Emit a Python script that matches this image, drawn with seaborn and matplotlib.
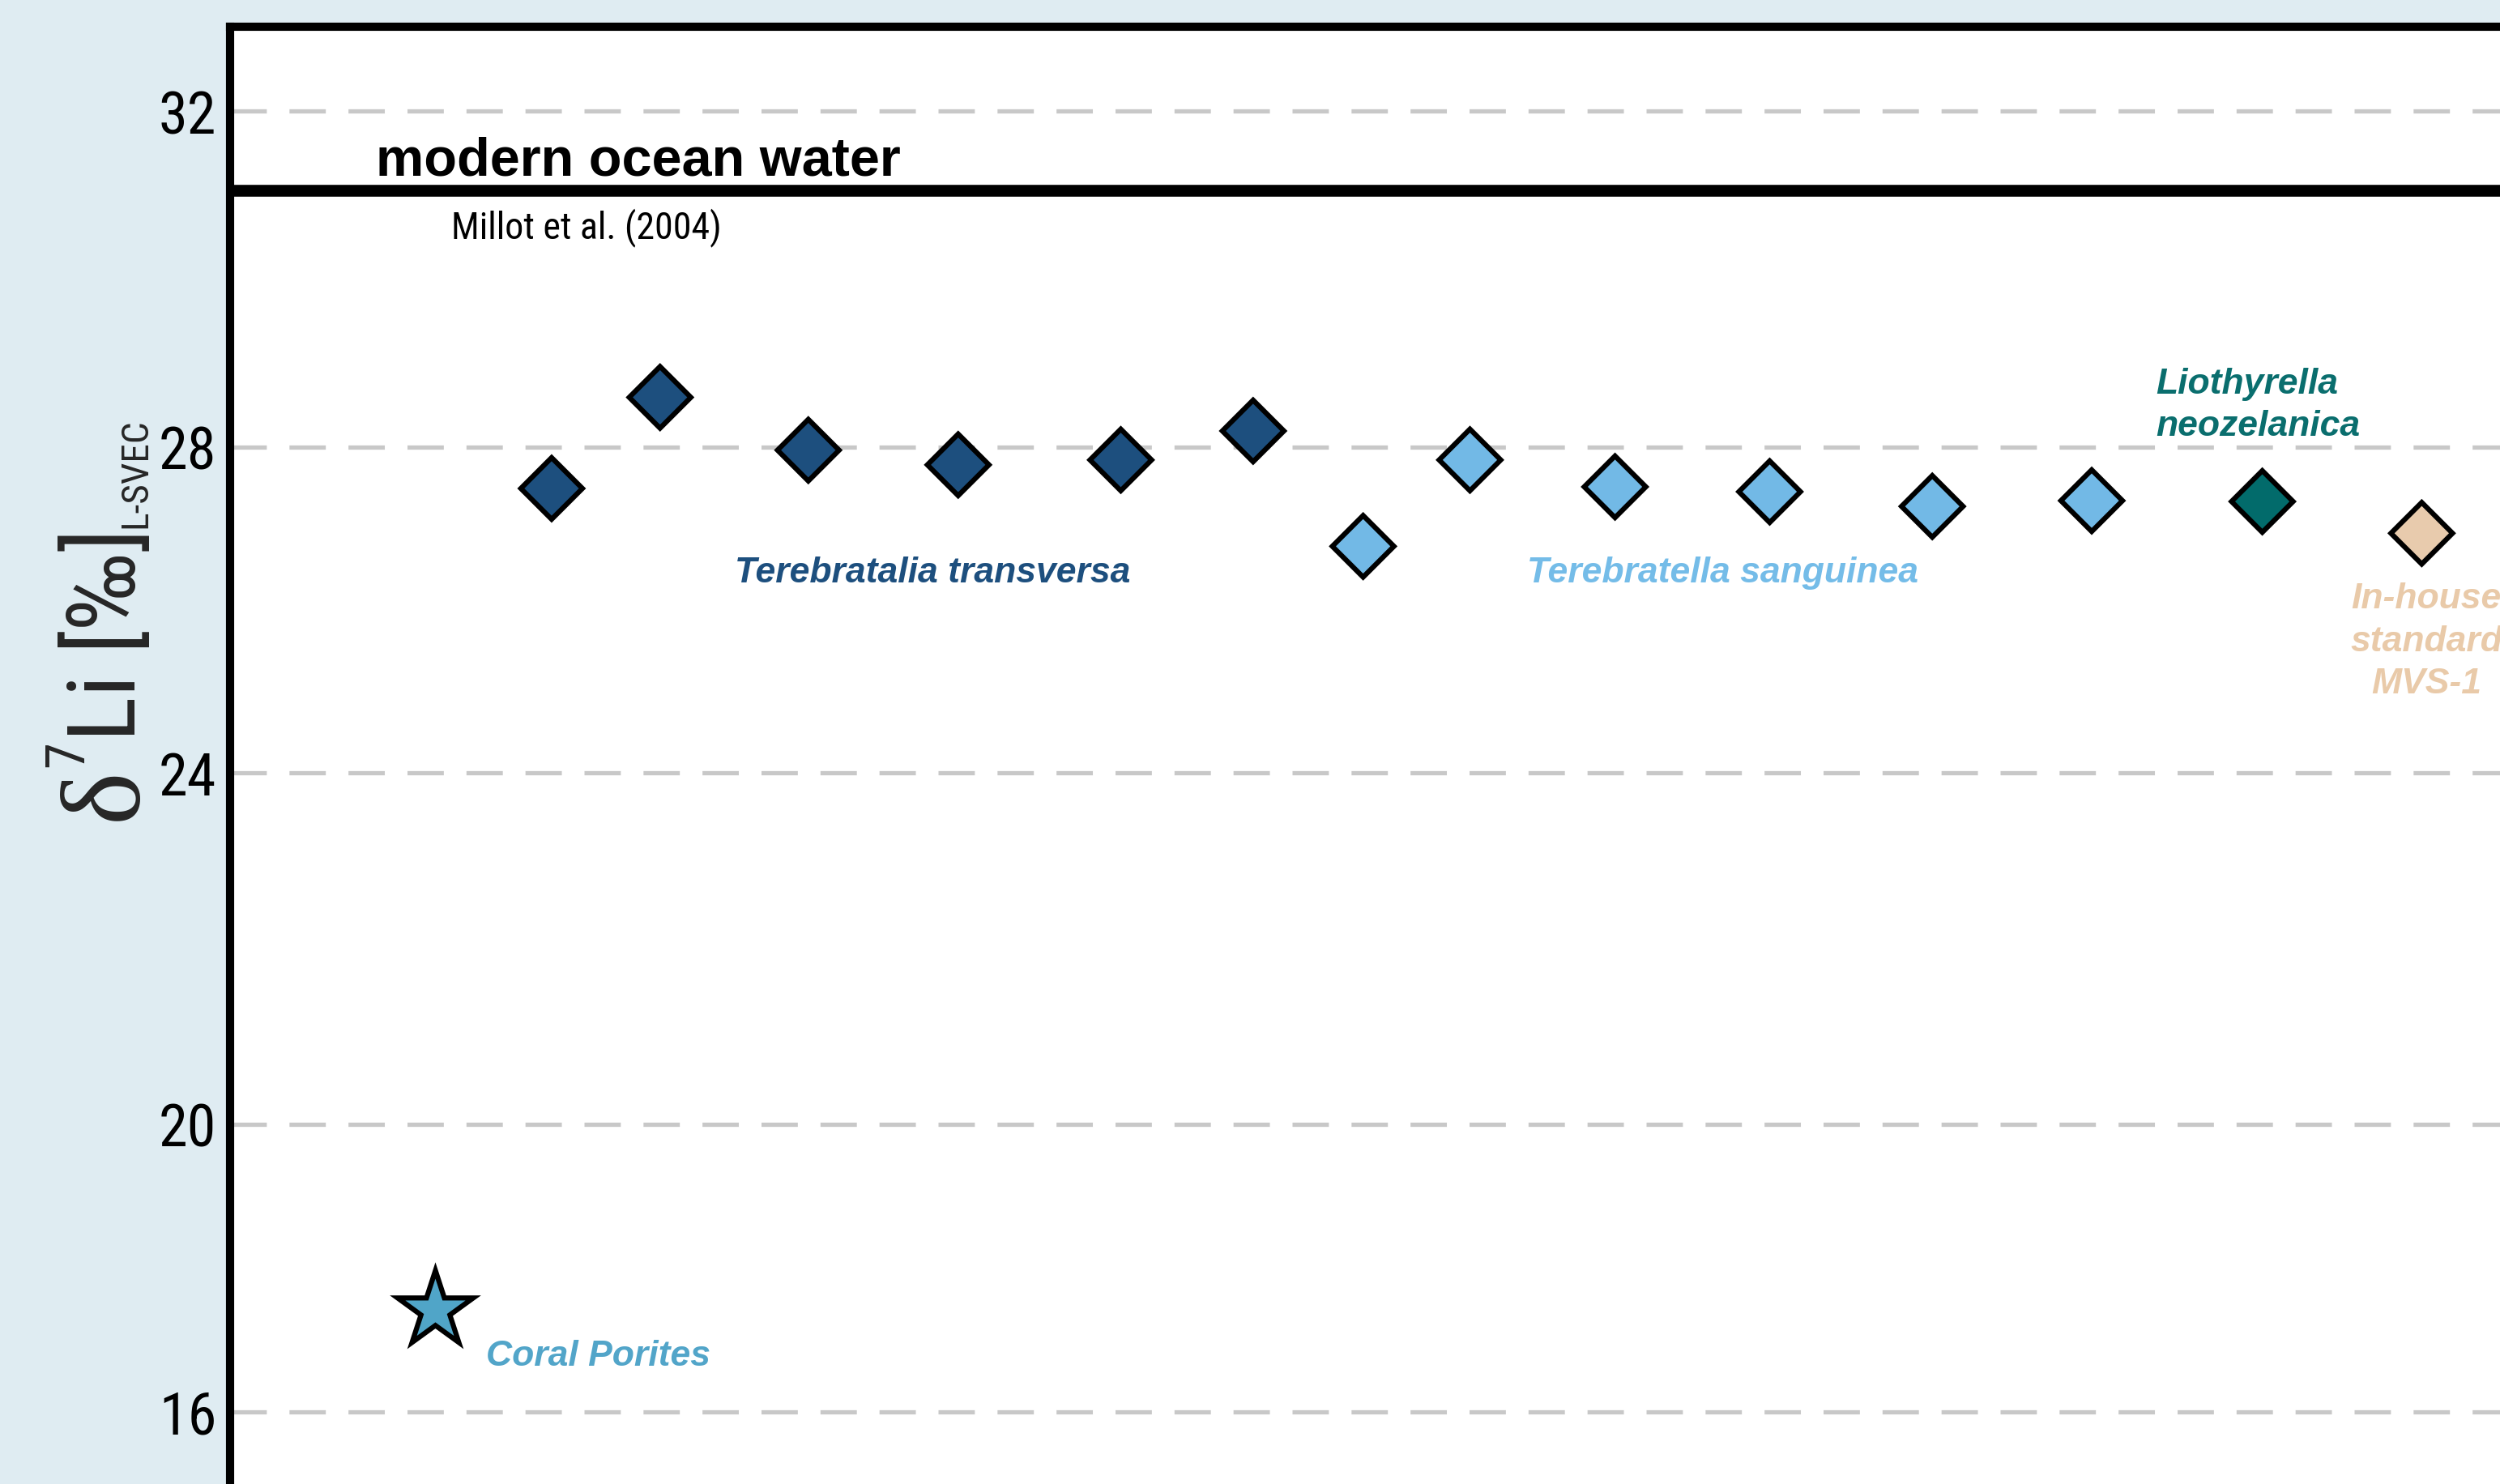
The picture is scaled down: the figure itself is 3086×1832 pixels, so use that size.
import os
import numpy as np
import pandas as pd
import matplotlib
matplotlib.use("Agg")
import matplotlib.pyplot as plt
from matplotlib import font_manager as fm
import seaborn as sns

# ---------------------------------------------------------------- data
sample_group = (["Terebratalia transversa"] * 6
                + ["Terebratella sanguinea"] * 6
                + ["Liothyrella neozelanica", "In-house standard MVS-1"])
sample_pos = [3.46, 4.14, 5.07, 6.01, 7.03, 7.86,
              8.55, 9.22, 10.13, 11.10, 12.12, 13.12,
              14.19, 15.19]
sample_d7li = [27.49, 28.59, 27.96, 27.78, 27.84, 28.19,
               26.78, 27.84, 27.51, 27.45, 27.27, 27.34,
               27.33, 26.94]
coral_pos = [2.73]
coral_d7li = [17.42]
seawater_d7li = 31.05
y_ticks = [16, 20, 24, 28, 32]

group_colors = {
    "Terebratalia transversa": "#1d4f7e",
    "Terebratella sanguinea": "#72b9e6",
    "Liothyrella neozelanica": "#026b6b",
    "In-house standard MVS-1": "#e8cbad",
}
label_colors = {
    "Terebratalia transversa": "#1d4f7e",
    "Terebratella sanguinea": "#74bce8",
    "Liothyrella neozelanica": "#0a6e6e",
    "In-house standard MVS-1": "#e9caa9",
    "Coral": "#52a5c9",
}
coral_color = "#50a5c8"
bg_color = "#dfecf2"

df = pd.DataFrame({"pos": sample_pos, "d7li": sample_d7li, "group": sample_group})
coral = pd.DataFrame({"pos": coral_pos, "d7li": coral_d7li})

# ---------------------------------------------------------------- fonts
sns.set_style("white")
SANS = ["Liberation Sans", "DejaVu Sans"]
SERIF = ["Liberation Serif", "DejaVu Serif"]
plt.rcParams["font.family"] = SANS


def _weight(e):
    w = e.weight
    if isinstance(w, str):
        w = fm.weight_dict.get(w, 400)
    return int(w)


def narrow_font():
    """Return FontProperties for an installed condensed sans-serif face."""
    entries = [e for e in fm.fontManager.ttflist
               if e.style == "normal" and _weight(e) < 600]
    for name in ["Liberation Sans Narrow", "Arial Narrow", "Roboto Condensed",
                 "Noto Sans Condensed", "DejaVu Sans Condensed"]:
        for e in entries:
            if e.name == name:
                return fm.FontProperties(fname=e.fname)

    def tag(e):
        return os.path.basename(e.fname).lower()

    for fam in ["Liberation Sans", "Roboto", "Noto Sans", "Open Sans",
                "Lato", "Inter", "DejaVu Sans"]:
        cands = [e for e in entries if e.name == fam or e.name.startswith(fam)]
        plain = [e for e in cands
                 if ("condensed" in tag(e) or "narrow" in tag(e)
                     or e.stretch == "condensed")
                 and "extra" not in tag(e) and "semi" not in tag(e)]
        if plain:
            return fm.FontProperties(fname=plain[0].fname)
    return fm.FontProperties(family=SANS)


NARROW = narrow_font()


def narrow(size):
    fp = NARROW.copy()
    fp.set_size(size)
    return fp


W, H = 3086, 1833
fig = plt.figure(figsize=(W / 100, H / 100), dpi=100, facecolor=bg_color)

# piecewise-linear vertical scale (value -> layout units)
_sv = [0, 14, 16, 20, 24, 28, 32, 33, 60]
_sp = [-1242.5, 0.0, 177.5, 532.5, 966.5, 1368.8, 1783.5, 1887.2, 4687.1]


def _fwd(v):
    return np.interp(v, _sv, _sp)


def _inv(p):
    return np.interp(p, _sp, _sv)


ax_left, ax_right = 284, 3240
ax_bottom, ax_top = -88.5, 1798.7
ax = fig.add_axes([ax_left / W, ax_bottom / H,
                   (ax_right - ax_left) / W, (ax_top - ax_bottom) / H])
ax.set_facecolor("white")
ax.set_yscale("function", functions=(_fwd, _inv))
ax.set_ylim(14, 33)
ax.set_xlim(ax_left / 196.8, ax_right / 196.8)

# dashed grey reference lines
ax.set_yticks(y_ticks, labels=[str(v) for v in y_ticks],
              fontproperties=narrow(52))
ax.set_axisbelow(True)
ax.yaxis.grid(True, color="#c8c8c8", linewidth=3.8, linestyle=(0, (8.5, 5.3)))
ax.xaxis.grid(False)
ax.set_xticks([])
ax.tick_params(axis="y", length=0, pad=12, labelcolor="black")

for side in ("right", "bottom"):
    ax.spines[side].set_visible(False)
for side in ("left", "top"):
    ax.spines[side].set_visible(True)
    ax.spines[side].set_color("black")
    ax.spines[side].set_linewidth(7.3)

# seawater reference
ax.axhline(seawater_d7li, color="black", linewidth=10.5, zorder=2)
ax.text(2.36, 31.24, "modern ocean water", family=SANS, fontweight="bold",
        fontsize=48, ha="left", va="baseline", color="black")
ax.text(2.83, 30.49, "Millot et al. (2004)", fontproperties=narrow(33),
        ha="left", va="baseline", color="black")

# brachiopod and standard samples
sns.scatterplot(data=df, x="pos", y="d7li", hue="group", palette=group_colors,
                marker="D", s=1500, edgecolor="black", linewidth=4.5,
                legend=False, zorder=3, ax=ax, joinstyle="miter")
# coral
sns.scatterplot(data=coral, x="pos", y="d7li", color=coral_color, marker="*",
                s=5000, edgecolor="black", linewidth=4.5, legend=False,
                zorder=3, ax=ax, joinstyle="miter")

lab = dict(family=SANS, fontweight="bold", fontstyle="italic", fontsize=32)
ax.text(4.61, 26.35, "Terebratalia transversa", ha="left", va="baseline",
        color=label_colors["Terebratalia transversa"], **lab)
ax.text(9.58, 26.35, "Terebratella sanguinea", ha="left", va="baseline",
        color=label_colors["Terebratella sanguinea"], **lab)
ax.text(13.52, 28.50, "Liothyrella\nneozelanica", ha="left", va="center",
        linespacing=1.35, color=label_colors["Liothyrella neozelanica"], **lab)
ax.text(15.22, 25.62, "In-house\nstandard\nMVS-1", ha="center", va="center",
        multialignment="center", linespacing=1.35,
        color=label_colors["In-house standard MVS-1"], **lab)
ax.text(3.05, 16.65, "Coral Porites", ha="left", va="baseline",
        color=label_colors["Coral"], **lab)

# y-axis title built from pieces: delta, superscript, main text, subscript
ax.set_ylabel("")
t0 = fig.text(168 / W, (H - 1013) / H, "δ", family=SERIF, fontsize=100,
              rotation=90, rotation_mode="anchor", ha="left", va="baseline")
t1 = ax.annotate("7", xy=(102, 1.0), xycoords=("figure pixels", t0),
                 fontproperties=narrow(48), rotation=90,
                 rotation_mode="anchor", ha="left", va="baseline",
                 annotation_clip=False)
t2 = ax.annotate("Li [‰]", xy=(167, 1.0), xycoords=("figure pixels", t1),
                 fontproperties=narrow(84), rotation=90,
                 rotation_mode="anchor", ha="left", va="baseline",
                 annotation_clip=False)
t3 = ax.annotate("L-SVEC", xy=(180, 1.0), xycoords=("figure pixels", t2),
                 fontproperties=narrow(34), rotation=90,
                 rotation_mode="anchor", ha="left", va="baseline",
                 annotation_clip=False)

fig.savefig("out.png", dpi=100, facecolor=bg_color)
